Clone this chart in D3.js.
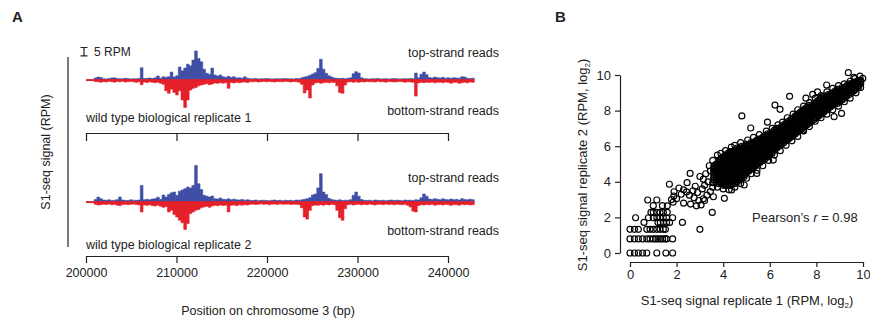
<!DOCTYPE html>
<html>
<head>
<meta charset="utf-8">
<script src="https://cdn.jsdelivr.net/npm/d3@7"></script>
<style>
  body { margin: 0; background: #fff; }
  text { font-family: "Liberation Sans", Arial, Helvetica, sans-serif; fill: #222; }
</style>
</head>
<body>
<svg id="chart" width="870" height="324"></svg>
<script>
// ---- panel A: binned S1-seq signal (RPM), 300 bp bins from 200000 ----
const binStart = 200000;
const binSize = 300;

const rep1Top = [
  0,0,0,1.2,1.8,1.5,0.8,0.6,0.9,1.2,
  1.3,0.9,0.7,0.8,1.0,0.9,0.6,0.8,0.7,0.9,
  7.4,0.9,1.0,1.2,0.9,1.3,2.4,1.1,1.9,1.6,
  2.0,4.8,1.8,2.5,7.8,5.5,7.2,9.5,8.6,12.0,
  17.5,13.0,11.0,6.5,4.0,3.5,7.2,3.0,2.4,3.0,
  2.0,1.6,2.2,1.5,2.0,1.2,1.4,1.0,1.9,1.1,
  0.8,0.7,0.9,0.6,0.8,0.7,0.9,0.8,0.6,0.7,
  0.8,0.7,0.8,0.9,0.7,0.8,0.6,0.9,0.8,1.3,
  1.8,2.2,2.8,3.6,4.4,7.0,12.5,6.5,4.0,2.6,
  1.8,1.2,1.0,0.9,1.1,0.8,1.0,1.3,3.8,5.0,
  4.2,1.3,0.8,0.7,0.6,0.8,0.7,0.9,0.6,0.7,
  0.8,0.6,0.7,0.9,0.8,0.6,0.7,0.8,0.7,0.9,
  0.8,4.2,1.4,3.5,4.8,3.2,1.5,1.2,1.8,1.4,
  1.2,1.6,1.1,1.3,1.0,1.4,1.2,1.1,2.0,1.8,
  1.0,0.9,1.1
];
const rep1Bottom = [
  0.3,0.3,0.4,0.9,1.1,1.3,1.0,1.2,0.8,1.0,
  1.3,0.9,1.1,0.8,1.2,1.0,0.9,1.1,1.4,1.0,
  2.8,1.2,1.5,1.1,1.4,1.6,1.3,2.0,2.5,6.5,
  8.0,5.5,7.5,9.0,6.5,12.0,16.5,12.0,6.0,5.0,
  4.5,3.5,3.0,2.6,2.2,2.8,2.4,1.8,2.0,1.6,
  1.9,1.7,5.0,1.5,1.8,1.4,1.6,1.3,1.2,1.5,
  1.0,1.1,0.9,1.2,1.0,0.8,1.1,0.9,1.0,1.2,
  0.9,1.0,1.1,0.8,1.0,1.2,0.9,1.1,1.3,2.6,
  7.8,6.0,10.8,3.0,1.8,1.5,2.0,1.6,1.4,1.7,
  1.3,1.5,3.5,7.5,8.0,3.0,1.2,1.0,1.3,1.1,
  1.4,1.0,1.2,0.9,1.1,1.0,1.2,0.8,1.1,1.0,
  1.3,0.9,1.0,1.2,1.1,0.9,1.0,1.3,1.1,1.2,
  1.4,9.7,1.8,1.4,1.6,1.3,1.5,1.2,1.7,1.4,
  1.3,1.6,1.2,1.5,1.9,1.3,1.4,2.0,1.6,1.3,
  1.7,1.2,1.4
];
const rep2Top = [
  0,0,0,1.5,3.0,2.0,1.2,1.0,1.3,0.9,
  1.1,1.4,3.0,1.2,1.0,0.9,1.3,1.1,1.0,1.2,
  10.0,1.4,1.6,1.3,1.8,2.0,2.9,1.6,4.2,3.0,
  4.5,5.5,6.0,4.0,6.5,7.3,8.0,9.0,8.5,10.0,
  22.0,11.0,7.5,4.0,3.5,3.0,3.6,2.0,1.8,2.4,
  1.6,1.5,1.9,1.4,1.7,1.3,1.2,1.5,1.1,1.3,
  1.0,0.9,1.2,0.8,1.0,1.1,0.9,0.8,1.0,1.2,
  0.9,1.0,0.8,1.1,0.9,1.0,0.8,1.2,1.0,1.3,
  1.6,2.0,2.6,4.2,4.8,8.5,17.0,6.0,4.5,2.2,
  1.5,1.2,1.0,1.3,0.9,1.1,1.0,1.4,4.0,6.0,
  3.5,1.5,1.0,0.9,1.1,0.8,1.2,1.0,0.9,1.1,
  0.8,1.0,1.2,0.9,1.1,1.0,0.8,1.2,1.0,1.1,
  0.9,1.3,1.2,2.5,4.8,3.5,1.8,1.5,2.0,1.6,
  1.4,1.9,1.5,1.3,1.8,1.4,1.6,1.2,2.0,1.5,
  1.3,1.7,1.4
];
const rep2Bottom = [
  0.3,0.4,0.3,1.4,1.8,1.6,1.3,1.5,1.2,1.7,
  1.4,1.9,2.2,1.5,1.3,1.6,1.4,1.2,1.5,1.8,
  6.0,1.8,2.0,1.6,2.2,2.4,1.9,2.6,3.2,2.8,
  6.0,5.0,7.5,9.0,11.0,12.5,16.5,13.0,7.0,6.0,
  5.0,4.5,3.5,3.0,2.6,3.2,2.4,2.0,2.2,1.8,
  2.1,1.9,6.0,2.0,1.8,2.2,1.7,1.9,1.6,1.8,
  1.4,1.2,1.5,1.3,1.1,1.4,1.2,1.6,1.3,1.2,
  1.5,1.1,1.4,1.3,1.2,1.5,1.3,1.4,1.6,3.5,
  9.0,10.3,5.0,2.2,1.8,2.0,1.6,1.9,1.5,1.8,
  1.4,1.7,5.0,9.5,11.0,4.0,1.6,1.4,1.8,1.5,
  1.3,1.7,1.4,1.6,1.2,1.5,1.8,1.3,1.4,1.6,
  1.2,1.5,1.4,1.7,1.3,1.5,1.6,1.4,2.0,3.0,
  5.5,6.0,2.2,1.6,1.8,1.5,1.7,1.4,1.9,1.6,
  1.5,1.8,1.4,1.7,2.0,1.5,1.6,1.9,1.4,1.7,
  1.5,1.8,1.6
];
const positionTicks = [200000, 210000, 220000, 230000, 240000];

// ---- panel B: replicate 1 vs replicate 2 (log2 RPM) ----
const scatterTicks = [0, 2, 4, 6, 8, 10];
// discrete low-count rows: [y, x values]
const lowRows = [
  [0.00, [0, 0.19, 0.36, 0.54, 0.72, 1.15, 1.54, 1.83]],
  [0.79, [0, 0.19, 0.36, 0.54, 0.72, 0.86, 1.0, 1.1, 1.2, 1.3, 1.4, 1.5, 1.57, 1.83]],
  [1.33, [0, 0.19, 0.36, 0.72, 0.86, 1.0, 1.15, 1.29, 1.43, 1.52, 3.0]],
  [1.72, [0.6, 1.2, 1.3, 1.43, 1.57, 1.7, 2.25]],
  [1.98, [0.24, 0.79, 1.0, 1.15, 1.29, 1.43, 1.57, 1.83]],
  [2.28, [0.9, 1.0, 1.15, 1.29, 1.43, 1.6, 3.53]],
  [2.66, [1.0, 1.39]],
  [2.98, [0.76, 1.15]]
];
// scattered points between the low rows and the dense cloud, and outliers
const sparsePoints = [
  [1.69,3.86],[2.58,4.47],[2.1,3.65],[2.3,3.55],[2.43,3.43],[2.7,3.5],[2.9,3.4],
  [3.1,3.6],[3.2,3.8],[3.35,4.0],[3.0,4.3],[3.25,4.45],[3.45,4.6],[3.15,4.15],
  [2.8,3.75],[2.55,3.25],[2.75,3.1],[2.95,2.95],[3.15,3.05],[3.3,3.25],[3.45,3.45],
  [3.55,3.7],[2.2,3.3],[2.0,3.05],[1.85,2.85],[2.3,2.8],[2.6,2.75],[2.85,2.65],
  [3.05,2.7],[3.2,2.95],[1.88,3.2],[1.78,3.0],[1.6,2.65],[1.89,3.44],[2.45,3.95],
  [3.58,3.16],[4.05,3.07],[4.36,3.54],[4.9,3.82],[5.44,4.47],[6.15,5.22],[7.44,6.91],
  [8.76,7.66],[9.08,7.84],
  [9.37,10.13],[9.61,9.87],[9.87,9.94],[9.99,9.81],[8.44,9.44],[7.84,8.91],[6.85,8.8],
  [6.22,8.31],[6.44,8.07],[4.8,7.7],[5.18,7.02],[7.55,8.7],[8.05,9.05],[5.9,7.35]
];
// ragged outer edge of the dense cloud
const edgePoints = [
  [3.4,4.9],[3.55,5.2],[3.75,5.5],[3.9,5.6],[4.1,5.75],[4.35,5.95],[4.5,6.05],[4.75,6.2],
  [5.05,6.35],[5.3,6.5],[5.55,6.65],[5.85,6.85],[6.1,7.0],[6.35,7.2],[6.55,7.35],[6.75,7.6],
  [7.0,7.8],[7.2,8.05],[7.45,8.25],[7.7,8.45],[7.95,8.7],[8.2,8.85],[8.45,9.05],[8.7,9.25],
  [8.95,9.4],[9.2,9.5],[9.45,9.65],[9.65,9.8],
  [3.55,3.95],[3.75,3.7],[4.0,3.6],[4.25,3.55],[4.5,3.7],[4.75,3.9],[5.0,4.2],[5.2,4.45],
  [5.45,4.65],[5.7,4.9],[5.95,5.2],[6.2,5.5],[6.45,5.75],[6.7,6.05],[6.95,6.3],[7.2,6.55],
  [7.45,6.85],[7.7,7.1],[7.95,7.4],[8.2,7.6],[8.45,7.8],[8.7,8.05],[8.95,8.25],[9.2,8.5],
  [9.45,8.7],[9.7,9.0],[9.9,9.3]
];
// dense cloud, one column per x value: "x:y y y ..."
const coreColumns = [
  "3.6:4.1 4.2 4.3 4.4 4.5 4.6 4.7 4.8 4.9",
  "3.7:4.0 4.1 4.2 4.3 4.4 4.5 4.6 4.7 4.8 4.9 5.0",
  "3.8:3.9 4.0 4.1 4.2 4.3 4.4 4.5 4.6 4.7 4.8 4.9 5.0 5.1 5.2",
  "3.9:3.9 4.0 4.1 4.2 4.3 4.4 4.5 4.6 4.7 4.8 4.9 5.0 5.1 5.2 5.3",
  "4.0:3.8 3.9 4.0 4.1 4.2 4.3 4.4 4.5 4.6 4.7 4.8 4.9 5.0 5.1 5.2 5.3 5.4",
  "4.1:3.8 3.9 4.0 4.1 4.2 4.3 4.4 4.5 4.6 4.7 4.8 4.9 5.0 5.1 5.2 5.3 5.4 5.5",
  "4.2:3.8 3.9 4.0 4.1 4.2 4.3 4.4 4.5 4.6 4.7 4.8 4.9 5.0 5.1 5.2 5.3 5.4 5.5 5.6",
  "4.3:3.8 3.9 4.0 4.1 4.2 4.3 4.4 4.5 4.6 4.7 4.8 4.9 5.0 5.1 5.2 5.3 5.4 5.5 5.6 5.7",
  "4.4:3.9 4.0 4.1 4.2 4.3 4.4 4.5 4.6 4.7 4.8 4.9 5.0 5.1 5.2 5.3 5.4 5.5 5.6 5.7",
  "4.5:3.9 4.0 4.1 4.2 4.3 4.4 4.5 4.6 4.7 4.8 4.9 5.0 5.1 5.2 5.3 5.4 5.5 5.6 5.7 5.8",
  "4.6:4.0 4.1 4.2 4.3 4.4 4.5 4.6 4.7 4.8 4.9 5.0 5.1 5.2 5.3 5.4 5.5 5.6 5.7 5.8 5.9",
  "4.7:4.1 4.2 4.3 4.4 4.5 4.6 4.7 4.8 4.9 5.0 5.1 5.2 5.3 5.4 5.5 5.6 5.7 5.8 5.9",
  "4.8:4.2 4.3 4.4 4.5 4.6 4.7 4.8 4.9 5.0 5.1 5.2 5.3 5.4 5.5 5.6 5.7 5.8 5.9 6.0",
  "4.9:4.3 4.4 4.5 4.6 4.7 4.8 4.9 5.0 5.1 5.2 5.3 5.4 5.5 5.6 5.7 5.8 5.9 6.0",
  "5.0:4.5 4.6 4.7 4.8 4.9 5.0 5.1 5.2 5.3 5.4 5.5 5.6 5.7 5.8 5.9 6.0 6.1",
  "5.1:4.6 4.7 4.8 4.9 5.0 5.1 5.2 5.3 5.4 5.5 5.6 5.7 5.8 5.9 6.0 6.1",
  "5.2:4.7 4.8 4.9 5.0 5.1 5.2 5.3 5.4 5.5 5.6 5.7 5.8 5.9 6.0 6.1 6.2",
  "5.3:4.8 4.9 5.0 5.1 5.2 5.3 5.4 5.5 5.6 5.7 5.8 5.9 6.0 6.1 6.2",
  "5.4:4.9 5.0 5.1 5.2 5.3 5.4 5.5 5.6 5.7 5.8 5.9 6.0 6.1 6.2 6.3",
  "5.5:5.0 5.1 5.2 5.3 5.4 5.5 5.6 5.7 5.8 5.9 6.0 6.1 6.2 6.3 6.4",
  "5.6:5.1 5.2 5.3 5.4 5.5 5.6 5.7 5.8 5.9 6.0 6.1 6.2 6.3 6.4",
  "5.7:5.2 5.3 5.4 5.5 5.6 5.7 5.8 5.9 6.0 6.1 6.2 6.3 6.4 6.5",
  "5.8:5.3 5.4 5.5 5.6 5.7 5.8 5.9 6.0 6.1 6.2 6.3 6.4 6.5 6.6",
  "5.9:5.4 5.5 5.6 5.7 5.8 5.9 6.0 6.1 6.2 6.3 6.4 6.5 6.6 6.7",
  "6.0:5.5 5.6 5.7 5.8 5.9 6.0 6.1 6.2 6.3 6.4 6.5 6.6 6.7",
  "6.1:5.6 5.7 5.8 5.9 6.0 6.1 6.2 6.3 6.4 6.5 6.6 6.7 6.8",
  "6.2:5.8 5.9 6.0 6.1 6.2 6.3 6.4 6.5 6.6 6.7 6.8 6.9",
  "6.3:5.9 6.0 6.1 6.2 6.3 6.4 6.5 6.6 6.7 6.8 6.9 7.0",
  "6.4:6.0 6.1 6.2 6.3 6.4 6.5 6.6 6.7 6.8 6.9 7.0",
  "6.5:6.1 6.2 6.3 6.4 6.5 6.6 6.7 6.8 6.9 7.0 7.1",
  "6.6:6.2 6.3 6.4 6.5 6.6 6.7 6.8 6.9 7.0 7.1 7.2",
  "6.7:6.3 6.4 6.5 6.6 6.7 6.8 6.9 7.0 7.1 7.2 7.3",
  "6.8:6.4 6.5 6.6 6.7 6.8 6.9 7.0 7.1 7.2 7.3 7.4",
  "6.9:6.5 6.6 6.7 6.8 6.9 7.0 7.1 7.2 7.3 7.4 7.5",
  "7.0:6.6 6.7 6.8 6.9 7.0 7.1 7.2 7.3 7.4 7.5 7.6",
  "7.1:6.7 6.8 6.9 7.0 7.1 7.2 7.3 7.4 7.5 7.6 7.7",
  "7.2:6.8 6.9 7.0 7.1 7.2 7.3 7.4 7.5 7.6 7.7 7.8",
  "7.3:6.9 7.0 7.1 7.2 7.3 7.4 7.5 7.6 7.7 7.8 7.9",
  "7.4:7.0 7.1 7.2 7.3 7.4 7.5 7.6 7.7 7.8 7.9 8.0",
  "7.5:7.1 7.2 7.3 7.4 7.5 7.6 7.7 7.8 7.9 8.0 8.1",
  "7.6:7.2 7.3 7.4 7.5 7.6 7.7 7.8 7.9 8.0 8.1 8.2",
  "7.7:7.3 7.4 7.5 7.6 7.7 7.8 7.9 8.0 8.1 8.2 8.3",
  "7.8:7.4 7.5 7.6 7.7 7.8 7.9 8.0 8.1 8.2 8.3",
  "7.9:7.5 7.6 7.7 7.8 7.9 8.0 8.1 8.2 8.3 8.4",
  "8.0:7.6 7.7 7.8 7.9 8.0 8.1 8.2 8.3 8.4 8.5",
  "8.1:7.7 7.8 7.9 8.0 8.1 8.2 8.3 8.4 8.5 8.6",
  "8.2:7.8 7.9 8.0 8.1 8.2 8.3 8.4 8.5 8.6 8.7",
  "8.3:7.9 8.0 8.1 8.2 8.3 8.4 8.5 8.6 8.7 8.8",
  "8.4:8.0 8.1 8.2 8.3 8.4 8.5 8.6 8.7 8.8",
  "8.5:8.1 8.2 8.3 8.4 8.5 8.6 8.7 8.8 8.9",
  "8.6:8.2 8.3 8.4 8.5 8.6 8.7 8.8 8.9",
  "8.7:8.3 8.4 8.5 8.6 8.7 8.8 8.9 9.0",
  "8.8:8.4 8.5 8.6 8.7 8.8 8.9 9.0 9.1",
  "8.9:8.4 8.5 8.6 8.7 8.8 8.9 9.0 9.1 9.2",
  "9.0:8.5 8.6 8.7 8.8 8.9 9.0 9.1 9.2",
  "9.1:8.6 8.7 8.8 8.9 9.0 9.1 9.2 9.3",
  "9.2:8.7 8.8 8.9 9.0 9.1 9.2 9.3",
  "9.3:8.8 8.9 9.0 9.1 9.2 9.3 9.4",
  "9.4:8.9 9.0 9.1 9.2 9.3 9.4 9.5",
  "9.5:9.0 9.1 9.2 9.3 9.4 9.5",
  "9.6:9.1 9.2 9.3 9.4 9.5 9.6",
  "9.7:9.2 9.3 9.4 9.5 9.6",
  "9.8:9.3 9.4 9.5 9.6 9.7",
  "9.9:9.5 9.6 9.7"
];

const svg = d3.select("#chart");
const ink = "#222";
const blue = "#3f4fa6";
const red = "#e4202a";

// panel letters
svg.append("text").attr("x", 12).attr("y", 22).attr("font-size", 15).attr("font-weight", "bold").text("A");
svg.append("text").attr("x", 555).attr("y", 22).attr("font-size", 15).attr("font-weight", "bold").text("B");

// ===== panel A =====
const xPos = d3.scaleLinear().domain([200000, 240000]).range([86, 448]);
const rpm = d3.scaleLinear().domain([0, 5]).range([0, 8.3]);

function binned(values) {
  const pts = values.map((v, i) => ({ pos: binStart + i * binSize, v }));
  pts.push({ pos: binStart + values.length * binSize, v: values[values.length - 1] });
  return pts;
}

function drawTrack(topVals, bottomVals, base) {
  const up = d3.area().curve(d3.curveStepAfter)
    .x(d => xPos(d.pos)).y0(base).y1(d => base - rpm(d.v));
  const down = d3.area().curve(d3.curveStepAfter)
    .x(d => xPos(d.pos)).y0(base).y1(d => base + rpm(d.v));
  svg.append("path").datum(binned(topVals)).attr("d", up)
    .attr("fill", blue).attr("stroke", blue).attr("stroke-width", 0.6);
  svg.append("path").datum(binned(bottomVals)).attr("d", down)
    .attr("fill", red).attr("stroke", red).attr("stroke-width", 0.6);
  // baseline
  svg.append("line")
    .attr("x1", xPos(binStart)).attr("x2", xPos(binStart + bottomVals.length * binSize))
    .attr("y1", base).attr("y2", base)
    .attr("stroke", red).attr("stroke-width", 1.6);
}

const base1 = 80, base2 = 202;
drawTrack(rep1Top, rep1Bottom, base1);
drawTrack(rep2Top, rep2Bottom, base2);

// scale bar: 5 RPM
const sbTop = 47.5;
svg.append("path")
  .attr("d", `M80.5,${sbTop}H87.5M84,${sbTop}V${sbTop + rpm(5)}M80.5,${sbTop + rpm(5)}H87.5`)
  .attr("stroke", ink).attr("stroke-width", 1.2).attr("fill", "none");
svg.append("text").attr("x", 94).attr("y", 56).attr("font-size", 12).text("5 RPM");

// y axis line (no ticks)
svg.append("line").attr("x1", 68).attr("x2", 68).attr("y1", 57).attr("y2", 247)
  .attr("stroke", ink).attr("stroke-width", 1.2);
svg.append("text").attr("transform", "translate(50,152) rotate(-90)")
  .attr("text-anchor", "middle").attr("font-size", 12.5).text("S1-seq signal (RPM)");

// strand labels
[[57, "top-strand reads"], [115, "bottom-strand reads"],
 [182, "top-strand reads"], [235, "bottom-strand reads"]].forEach(([y, t]) => {
  svg.append("text").attr("x", 499).attr("y", y).attr("text-anchor", "end")
    .attr("font-size", 12.5).text(t);
});
svg.append("text").attr("x", 86).attr("y", 122).attr("font-size", 12.5).text("wild type biological replicate 1");
svg.append("text").attr("x", 86).attr("y", 249).attr("font-size", 12.5).text("wild type biological replicate 2");

function styleAxis(g, fs) {
  g.selectAll(".domain, line").attr("stroke", ink).attr("stroke-width", 1.2);
  g.selectAll("text").attr("font-size", fs).attr("fill", ink)
    .attr("font-family", '"Liberation Sans", Arial, Helvetica, sans-serif');
}

const axis1 = svg.append("g").attr("transform", "translate(0,133)")
  .call(d3.axisBottom(xPos).tickValues(positionTicks).tickSize(8).tickSizeOuter(0).tickFormat(""));
styleAxis(axis1, 12.5);

const axis2 = svg.append("g").attr("transform", "translate(0,256)")
  .call(d3.axisBottom(xPos).tickValues(positionTicks).tickSize(7).tickSizeOuter(0)
    .tickPadding(5).tickFormat(d3.format("d")));
styleAxis(axis2, 12.5);

svg.append("text").attr("x", 268).attr("y", 315).attr("text-anchor", "middle")
  .attr("font-size", 12.5).text("Position on chromosome 3 (bp)");

// ===== panel B =====
const sx = d3.scaleLinear().domain([0, 10]).range([630, 863]);
const sy = d3.scaleLinear().domain([0, 10]).range([253, 75]);

const points = [];
lowRows.forEach(([y, xs]) => xs.forEach(x => points.push([x, y])));
sparsePoints.forEach(p => points.push(p));
coreColumns.forEach(col => {
  const [x, ys] = col.split(":");
  ys.split(" ").forEach(y => points.push([+x, +y]));
});
edgePoints.forEach(p => points.push(p));

svg.append("g").selectAll("circle").data(points).join("circle")
  .attr("cx", d => sx(d[0])).attr("cy", d => sy(d[1])).attr("r", 3)
  .attr("fill", "none").attr("stroke", "#000").attr("stroke-width", 1.15);

const yAxisB = svg.append("g").attr("transform", "translate(620,0)")
  .call(d3.axisLeft(sy).tickValues(scatterTicks).tickSize(5).tickSizeOuter(0).tickPadding(4));
styleAxis(yAxisB, 13);

const xAxisB = svg.append("g").attr("transform", "translate(0,262)")
  .call(d3.axisBottom(sx).tickValues(scatterTicks).tickSize(5).tickSizeOuter(0).tickPadding(3));
styleAxis(xAxisB, 13);

const pear = svg.append("text").attr("x", 752).attr("y", 222).attr("font-size", 13);
pear.append("tspan").text("Pearson\u2019s ");
pear.append("tspan").attr("font-style", "italic").text("r");
pear.append("tspan").text(" = 0.98");

const xl = svg.append("text").attr("x", 747).attr("y", 305).attr("text-anchor", "middle").attr("font-size", 13);
xl.append("tspan").text("S1-seq signal replicate 1 (RPM, log");
xl.append("tspan").attr("font-size", 8).attr("dy", 3).text("2");
xl.append("tspan").attr("dy", -3).text(")");

const yl = svg.append("text").attr("transform", "translate(587,165) rotate(-90)")
  .attr("text-anchor", "middle").attr("font-size", 13);
yl.append("tspan").text("S1-seq signal replicate 2 (RPM, log");
yl.append("tspan").attr("font-size", 8).attr("dy", 3).text("2");
yl.append("tspan").attr("dy", -3).text(")");
</script>
</body>
</html>
